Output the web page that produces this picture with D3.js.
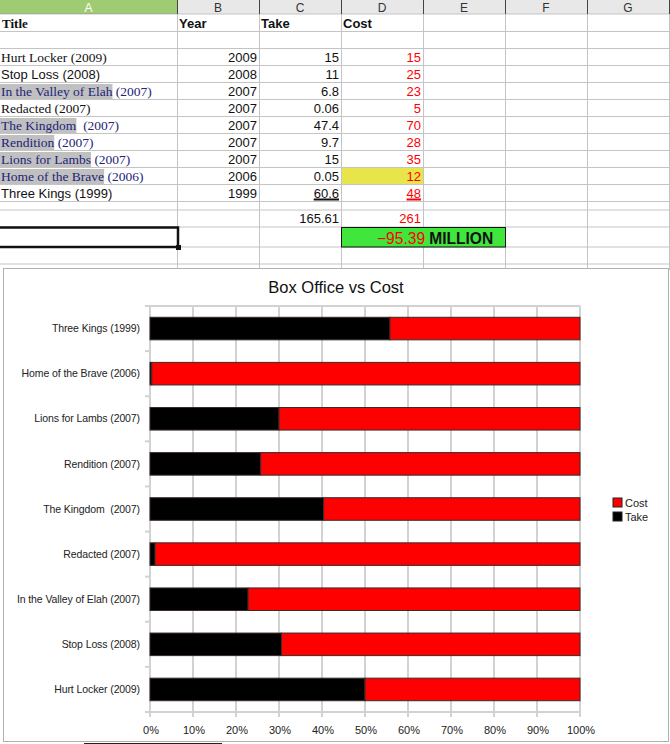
<!DOCTYPE html>
<html>
<head>
<meta charset="utf-8">
<script src="https://cdn.jsdelivr.net/npm/d3@7"></script>
<style>
  body { margin: 0; background: #fff; }
  svg { display: block; }
  text { font-family: "Liberation Sans", Arial, sans-serif; }
  .serif { font-family: "Liberation Serif", "Times New Roman", serif; }
</style>
</head>
<body>
<svg id="sheet" width="670" height="744"></svg>
<script>
// spreadsheet data (row order as in the sheet)
const titles = [
  "Hurt Locker (2009)", "Stop Loss (2008)", "In the Valley of Elah (2007)",
  "Redacted (2007)", "The Kingdom  (2007)", "Rendition (2007)",
  "Lions for Lambs (2007)", "Home of the Brave (2006)", "Three Kings (1999)"
]
const years = [2009, 2008, 2007, 2007, 2007, 2007, 2007, 2006, 1999]
const take = [15, 11, 6.8, 0.06, 47.4, 9.7, 15, 0.05, 60.6]
const cost = [15, 25, 23, 5, 70, 28, 35, 12, 48]

const columnNames = ["A", "B", "C", "D", "E", "F", "G"]
const headers = ["Title", "Year", "Take", "Cost"]
const seriesKeys = ["take", "cost"]
const seriesNames = {take: "Take", cost: "Cost"}
const chartTitle = "Box Office vs Cost"

// how the title cells are typed in the sheet (font + highlighted part)
const titleLook = [
  {serif: true, navy: false, mark: ""},
  {serif: false, navy: false, mark: ""},
  {serif: true, navy: true, mark: "In the Valley of Elah"},
  {serif: true, navy: false, mark: ""},
  {serif: true, navy: true, mark: "The Kingdom"},
  {serif: true, navy: true, mark: "Rendition"},
  {serif: true, navy: true, mark: "Lions for Lambs"},
  {serif: true, navy: true, mark: "Home of the Brave"},
  {serif: false, navy: false, mark: ""}
]

const svg = d3.select("#sheet")
const W = 670

// ---------- sheet grid ----------
const colX = [0, 177, 259, 341, 423, 505, 587, 669]
const rowH = 17
const firstData = 48.5
const rowTop = i => firstData + rowH * i
const hLines = [14, 31.5]
  .concat(d3.range(titles.length + 1).map(rowTop))
  .concat([210, 227, 247, 264])

svg.append("rect").attr("width", W).attr("height", 14).attr("fill", "#e8e8e8")
svg.append("rect").attr("width", colX[1]).attr("height", 14).attr("fill", "#9fcc72")
svg.append("line").attr("x1", 0).attr("x2", colX[1]).attr("y1", 13.5).attr("y2", 13.5)
  .attr("stroke", "#6fa845")

svg.append("g").selectAll("line")
  .data(hLines)
  .enter().append("line")
  .attr("x1", 0).attr("x2", W)
  .attr("y1", d => d).attr("y2", d => d)
  .attr("stroke", "#c4c4c4")

svg.append("g").selectAll("line")
  .data(colX.slice(1))
  .enter().append("line")
  .attr("x1", d => d + 0.5).attr("x2", d => d + 0.5)
  .attr("y1", 14).attr("y2", 270)
  .attr("stroke", "#c4c4c4")

svg.append("g").selectAll("line")
  .data(colX.slice(1))
  .enter().append("line")
  .attr("x1", d => d + 0.5).attr("x2", d => d + 0.5)
  .attr("y1", 0).attr("y2", 14)
  .attr("stroke", "#444")

svg.append("g").selectAll("text")
  .data(columnNames)
  .enter().append("text")
  .attr("x", (d, i) => (colX[i] + colX[i + 1]) / 2)
  .attr("y", 11.5)
  .attr("text-anchor", "middle")
  .attr("font-size", 12)
  .attr("fill", (d, i) => i === 0 ? "#fff" : "#333")
  .text(d => d)

// header row
headers.forEach((h, i) => {
  svg.append("text")
    .attr("class", i === 0 ? "serif" : null)
    .attr("x", colX[i] + 2)
    .attr("y", 28)
    .attr("font-size", 13)
    .attr("font-weight", "bold")
    .attr("fill", "#111")
    .text(h)
})

// yellow cell behind one cost value
const yellowRow = 7
svg.insert("rect", "g")
  .attr("x", colX[3] + 0.5).attr("y", rowTop(yellowRow) + 0.5)
  .attr("width", colX[4] - colX[3] - 0.5).attr("height", rowH - 0.5)
  .attr("fill", "#e8e44c")

// data rows
const navy = "#23237a"
const serifSize = 13.5
titles.forEach((t, i) => {
  const look = titleLook[i]
  const base = rowTop(i) + 13
  const g = svg.append("g")
  const color = look.navy ? navy : "#111"
  const size = look.serif ? serifSize : 13
  let x = 1
  if (look.mark) {
    const hl = g.append("rect").attr("y", rowTop(i) + 1.5).attr("height", rowH - 2).attr("fill", "#c0c0c0")
    const first = g.append("text").attr("class", "serif")
      .attr("x", x).attr("y", base).attr("font-size", size).attr("fill", color)
      .text(look.mark)
    const w = first.node().getComputedTextLength()
    hl.attr("x", 0).attr("width", w + 1)
    const rest = t.slice(look.mark.length)
    g.append("text").attr("class", "serif")
      .attr("x", x + w).attr("y", base).attr("font-size", size).attr("fill", color)
      .style("white-space", "pre")
      .text(rest)
  } else {
    g.append("text").attr("class", look.serif ? "serif" : null)
      .attr("x", x).attr("y", base).attr("font-size", size).attr("fill", color)
      .style("white-space", "pre")
      .text(t)
  }

  svg.append("text").attr("x", colX[2] - 2).attr("y", base)
    .attr("text-anchor", "end").attr("font-size", 13).attr("fill", "#111")
    .text(years[i])
  svg.append("text").attr("x", colX[3] - 2).attr("y", base)
    .attr("text-anchor", "end").attr("font-size", 13).attr("fill", "#111")
    .text(String(take[i]))
  svg.append("text").attr("x", colX[4] - 2).attr("y", base)
    .attr("text-anchor", "end").attr("font-size", 13).attr("fill", "#f00")
    .text(String(cost[i]))
})

// underlines under the last values (sum range markers)
function underline(col, value, color) {
  const last = titles.length - 1
  const tmp = svg.append("text").attr("font-size", 13).text(String(value))
  const w = tmp.node().getComputedTextLength()
  tmp.remove()
  svg.append("line")
    .attr("x1", colX[col] - 2 - w).attr("x2", colX[col] - 2)
    .attr("y1", rowTop(last) + 15).attr("y2", rowTop(last) + 15)
    .attr("stroke", color).attr("stroke-width", 2)
}
underline(3, take[take.length - 1], "#111")
underline(4, cost[cost.length - 1], "#f00")

// totals
const totalTake = d3.sum(take)
const totalCost = d3.sum(cost)
const fmt2 = d3.format(".2f")
svg.append("text").attr("x", colX[3] - 2).attr("y", 223)
  .attr("text-anchor", "end").attr("font-size", 13).attr("fill", "#111")
  .text(fmt2(totalTake))
svg.append("text").attr("x", colX[4] - 2).attr("y", 223)
  .attr("text-anchor", "end").attr("font-size", 13).attr("fill", "#f00")
  .text(d3.format("d")(totalCost))

// green result cell
svg.append("rect")
  .attr("x", colX[3] + 0.5).attr("y", 227.5)
  .attr("width", colX[5] - colX[3]).attr("height", 19.5)
  .attr("fill", "#40e63c").attr("stroke", "#111")
const res = svg.append("text").attr("x", 377).attr("y", 243.5).attr("font-size", 15.6)
res.append("tspan").attr("fill", "#f00").text(fmt2(totalTake - totalCost))
res.append("tspan").attr("fill", "#111").attr("font-weight", "bold").attr("dx", 4).text("MILLION")

// selected cell cursor
svg.append("rect")
  .attr("x", -2).attr("y", 227.5).attr("width", 180).attr("height", 19.5)
  .attr("fill", "none").attr("stroke", "#111").attr("stroke-width", 2.5)
svg.append("rect").attr("x", 176).attr("y", 245).attr("width", 5).attr("height", 5).attr("fill", "#111")

// ---------- chart ----------
svg.append("rect")
  .attr("x", 3.5).attr("y", 268.5).attr("width", 665).attr("height", 473)
  .attr("fill", "#fff").attr("stroke", "#b0b0b0")

svg.append("text")
  .attr("x", 336).attr("y", 293)
  .attr("text-anchor", "middle").attr("font-size", 16.5).attr("fill", "#111")
  .text(chartTitle)

const rows = titles.map((t, i) => ({title: t, take: take[i], cost: cost[i]}))
const order = titles.slice().reverse()

const x = d3.scaleLinear().domain([0, 1]).range([150, 580])
const y = d3.scaleBand().domain(order).range([306, 712]).paddingInner(0.5).paddingOuter(0.25)
const color = d3.scaleOrdinal().domain(seriesKeys).range(["#000", "#f00"])

const stacked = d3.stack().keys(seriesKeys).offset(d3.stackOffsetExpand)(rows)

const grid = "#d2d2d2"
const plot = svg.append("g")

// vertical grid and bottom ticks
plot.selectAll("line.grid")
  .data(x.ticks(10))
  .enter().append("line")
  .attr("class", "grid")
  .attr("x1", d => x(d)).attr("x2", d => x(d))
  .attr("y1", y.range()[0]).attr("y2", y.range()[1] + 5)
  .attr("stroke", grid).attr("stroke-width", 2)

plot.append("line")
  .attr("x1", x(0)).attr("x2", x(1))
  .attr("y1", y.range()[0]).attr("y2", y.range()[0])
  .attr("stroke", grid).attr("stroke-width", 2)
plot.append("line")
  .attr("x1", x(0)).attr("x2", x(1))
  .attr("y1", y.range()[1]).attr("y2", y.range()[1])
  .attr("stroke", grid).attr("stroke-width", 2)

// category boundary ticks on the left
plot.selectAll("line.ytick")
  .data(d3.range(order.length + 1))
  .enter().append("line")
  .attr("class", "ytick")
  .attr("x1", x(0) - 5).attr("x2", x(0))
  .attr("y1", k => y.range()[0] + k * y.step())
  .attr("y2", k => y.range()[0] + k * y.step())
  .attr("stroke", grid).attr("stroke-width", 2)

// bars
plot.selectAll("g.series")
  .data(stacked)
  .enter().append("g")
  .attr("class", "series")
  .attr("fill", d => color(d.key))
  .selectAll("rect")
  .data(d => d)
  .enter().append("rect")
  .attr("x", d => x(d[0]))
  .attr("y", d => y(d.data.title))
  .attr("width", d => x(d[1]) - x(d[0]))
  .attr("height", y.bandwidth())
  .attr("stroke", "#3a2a2a").attr("stroke-width", 1)

// tick labels
plot.selectAll("text.xl")
  .data(x.ticks(10))
  .enter().append("text")
  .attr("class", "xl")
  .attr("x", d => x(d) + 1)
  .attr("y", 734)
  .attr("text-anchor", "middle").attr("font-size", 11).attr("fill", "#222")
  .text(d3.format(".0%"))

plot.selectAll("text.yl")
  .data(order)
  .enter().append("text")
  .attr("class", "yl")
  .attr("x", 140)
  .attr("y", d => y(d) + y.bandwidth() / 2)
  .attr("dy", "0.35em")
  .attr("text-anchor", "end").attr("font-size", 10.5).attr("fill", "#222")
  .attr("letter-spacing", -0.1)
  .style("white-space", "pre")
  .text(d => d)

// legend
const legend = svg.append("g").selectAll("g")
  .data(seriesKeys.slice().reverse())
  .enter().append("g")
  .attr("transform", (d, i) => `translate(613,${498 + i * 14})`)
legend.append("rect").attr("width", 9).attr("height", 9)
  .attr("fill", d => color(d)).attr("stroke", "#222")
legend.append("text").attr("x", 12).attr("y", 8.5)
  .attr("font-size", 11).attr("fill", "#222")
  .text(d => seriesNames[d])

// scrollbar remains at the bottom edge
svg.append("line").attr("x1", 84).attr("x2", 222).attr("y1", 743.5).attr("y2", 743.5).attr("stroke", "#222")
</script>
</body>
</html>
